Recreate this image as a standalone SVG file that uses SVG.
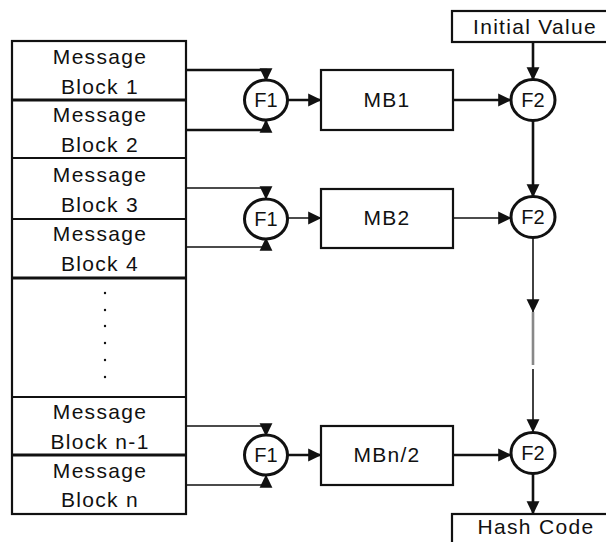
<svg xmlns="http://www.w3.org/2000/svg" width="606" height="542" viewBox="0 0 606 542">
<style>
text{font-family:"Liberation Sans",Arial,sans-serif;font-size:21px;fill:#111;text-anchor:middle;letter-spacing:1.3px}
.c{font-size:20px;letter-spacing:0}
.box{fill:#fff;stroke:#111;stroke-width:2.2}
.blk{fill:none;stroke:#111;stroke-width:2.2}
.ln{fill:none;stroke:#111;stroke-width:2.6}
.tn{fill:none;stroke:#111;stroke-width:1.6}
.ring{fill:#fff;stroke:#111;stroke-width:3}
.dot{fill:#111}
</style>
<defs>
<marker id="ah" markerUnits="userSpaceOnUse" markerWidth="14" markerHeight="14" viewBox="0 0 12 12" refX="11" refY="6" orient="auto">
<path d="M0,0.5 L11.5,6 L0,11.5 z" fill="#111"/>
</marker>
</defs>
<g id="message-stack">
<rect class="blk" x="12" y="41" width="174" height="473"/>
<line class="blk" x1="12" y1="100" x2="186" y2="100" style="stroke-width:3"/>
<line class="blk" x1="12" y1="158" x2="186" y2="158"/>
<line class="blk" x1="12" y1="219" x2="186" y2="219"/>
<line class="blk" x1="12" y1="278" x2="186" y2="278" style="stroke-width:3"/>
<line class="blk" x1="12" y1="397" x2="186" y2="397"/>
<line class="blk" x1="12" y1="455" x2="186" y2="455" style="stroke-width:3"/>
</g>
<g id="block1"><text x="100" y="64">Message</text><text x="100" y="94">Block 1</text></g>
<g id="block2"><text x="100" y="122">Message</text><text x="100" y="152">Block 2</text></g>
<g id="block3"><text x="100" y="182">Message</text><text x="100" y="212">Block 3</text></g>
<g id="block4"><text x="100" y="241">Message</text><text x="100" y="271">Block 4</text></g>
<g id="ellipsis">
<circle class="dot" cx="105" cy="293" r="1.2"/>
<circle class="dot" cx="105" cy="310" r="1.2"/>
<circle class="dot" cx="105" cy="326" r="1.2"/>
<circle class="dot" cx="105" cy="343" r="1.2"/>
<circle class="dot" cx="105" cy="360" r="1.2"/>
<circle class="dot" cx="105" cy="377" r="1.2"/>
</g>
<g id="blockn1"><text x="100" y="419">Message</text><text x="100" y="449">Block n-1</text></g>
<g id="blockn"><text x="100" y="478">Message</text><text x="100" y="507">Block n</text></g>

<g id="connectors">
<path class="ln" d="M186,70 H266 V81" marker-end="url(#ah)"/>
<path class="ln" d="M186,130 H266 V120" marker-end="url(#ah)"/>
<path class="ln" d="M288,100 H321" marker-end="url(#ah)"/>
<path class="ln" d="M453,100 H511" marker-end="url(#ah)"/>
<path class="ln" d="M533,42 V80" marker-end="url(#ah)"/>
<path class="ln" d="M533,121 V197" marker-end="url(#ah)"/>

<path class="tn" d="M186,188 H266 V199" marker-end="url(#ah)"/>
<path class="tn" d="M186,247 H266 V238" marker-end="url(#ah)"/>
<path class="tn" d="M288,218 H321" marker-end="url(#ah)"/>
<path class="tn" d="M453,218 H511" marker-end="url(#ah)"/>
<path class="tn" d="M533,238 V312" marker-end="url(#ah)"/>
<line x1="533" y1="312" x2="533" y2="365" stroke="#888" stroke-width="2.6"/>
<path class="tn" d="M533,369 V432" marker-end="url(#ah)"/>

<path class="tn" d="M186,426 H266 V436" marker-end="url(#ah)"/>
<path class="tn" d="M186,485 H266 V475" marker-end="url(#ah)"/>
<path class="ln" d="M288,455 H321" marker-end="url(#ah)"/>
<path class="ln" d="M453,455 H511" marker-end="url(#ah)"/>
<path class="ln" d="M533,474 V514" marker-end="url(#ah)"/>
</g>

<g id="f1-a"><ellipse class="ring" cx="266" cy="100" rx="21.5" ry="20"/><text class="c" x="266" y="107">F1</text></g>
<g id="f1-b"><ellipse class="ring" cx="266" cy="219" rx="21.5" ry="20"/><text class="c" x="266" y="226">F1</text></g>
<g id="f1-c"><ellipse class="ring" cx="266" cy="455" rx="21.5" ry="20"/><text class="c" x="266" y="462">F1</text></g>

<g id="mb1"><rect class="box" x="321" y="70" width="132" height="60"/><text x="387" y="107">MB1</text></g>
<g id="mb2"><rect class="box" x="321" y="189" width="132" height="59"/><text x="387" y="225">MB2</text></g>
<g id="mbn2"><rect class="box" x="321" y="426" width="132" height="59"/><text x="387" y="462">MBn/2</text></g>

<g id="f2-a"><ellipse class="ring" cx="533" cy="100" rx="22" ry="20.5"/><text class="c" x="533" y="107">F2</text></g>
<g id="f2-b"><ellipse class="ring" cx="533" cy="217" rx="22" ry="20.5"/><text class="c" x="533" y="224">F2</text></g>
<g id="f2-c"><ellipse class="ring" cx="533" cy="453" rx="22" ry="20.5"/><text class="c" x="533" y="460">F2</text></g>

<g id="initial-value"><rect class="box" x="452" y="11" width="160" height="31"/><text x="535" y="34">Initial Value</text></g>
<g id="hash-code"><rect class="box" x="452" y="514" width="160" height="40"/><text x="536" y="534">Hash Code</text></g>
</svg>
